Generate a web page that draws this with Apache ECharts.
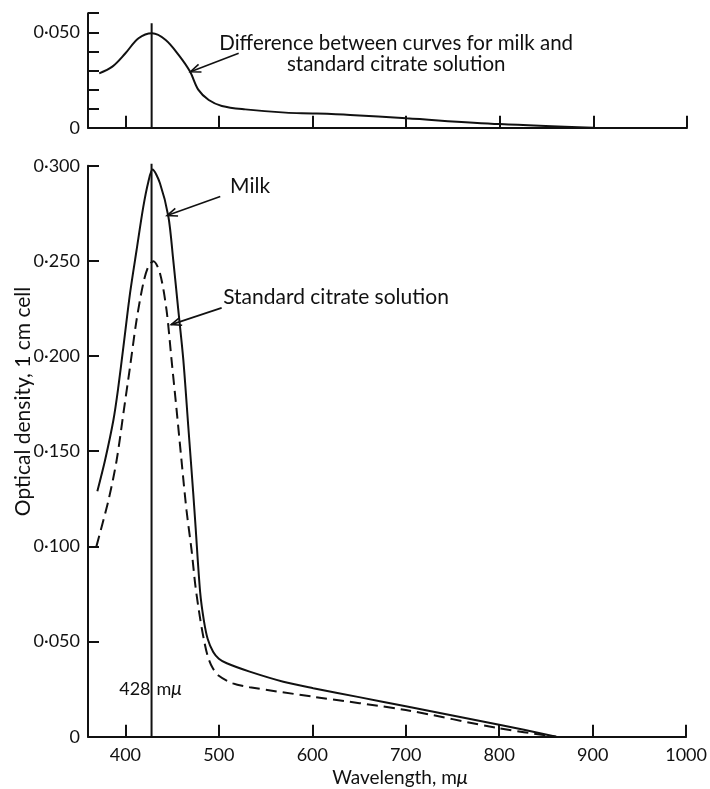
<!DOCTYPE html>
<html>
<head>
<meta charset="utf-8">
<script src="https://cdn.jsdelivr.net/npm/echarts@6/dist/echarts.min.js"></script>
<style>
  html, body { margin: 0; padding: 0; background: #fff; }
  #chart { width: 710px; height: 789px; }
</style>
</head>
<body>
<div id="chart"></div>
<script>
// Absorption spectra: milk vs. standard citrate solution, with their difference above.
const wavelengthTicks = [400, 500, 600, 700, 800, 900, 1000];
const densityTicks = [0, 0.05, 0.1, 0.15, 0.2, 0.25, 0.3];
const differenceTicks = [0, 0.01, 0.02, 0.03, 0.04, 0.05, 0.06];
const differenceLabelTicks = [0, 0.05];

const peakWavelength = 428;
const peakLineDensity = [0, 0.301];
const peakLineDifference = [0, 0.0547];

const milkWavelength = [370, 378.3, 387.2, 392.5, 397.9, 405, 412, 419.2, 424.6, 429,
  437, 446, 451.2, 456.6, 462, 467.3, 472.6, 475, 480, 484, 488, 494, 500, 508.5,
  533, 569, 601, 650, 700, 800, 861];
const milkDensity = [0.129, 0.1454, 0.1664, 0.1839, 0.2049, 0.233, 0.2557, 0.2785, 0.2916, 0.298,
  0.2908, 0.2733, 0.2505, 0.2242, 0.198, 0.163, 0.128, 0.111, 0.076, 0.061, 0.0515, 0.0445, 0.041, 0.0386,
  0.0342, 0.0289, 0.0255, 0.0208, 0.016, 0.0063, 0];

const citrateWavelength = [369, 382, 390.7, 397.9, 405, 412, 419.2, 424.6, 430,
  437, 444, 449.4, 454.8, 460, 465.4, 470.8, 475, 480, 484, 488, 493, 500, 515,
  533, 601, 700, 800, 861];
const citrateDensity = [0.100, 0.1244, 0.1454, 0.170, 0.1944, 0.219, 0.2383, 0.247, 0.2498,
  0.2435, 0.2242, 0.198, 0.1717, 0.1454, 0.119, 0.0981, 0.079, 0.062, 0.051, 0.0425, 0.0365, 0.032, 0.028,
  0.026, 0.021, 0.014, 0.0044, 0];

const differenceWavelength = [372, 386, 400, 414, 428.5, 443, 457, 469, 478, 489, 503, 528, 571,
  600, 640, 700, 800, 900];
const differenceDensity = [0.0285, 0.032, 0.039, 0.0469, 0.0495, 0.046, 0.038, 0.0294, 0.0198, 0.0145, 0.0114, 0.0096, 0.0079,
  0.0075, 0.0067, 0.0049, 0.0019, 0];

const pairs = (xs, ys) => xs.map((x, i) => [x, ys[i]]);
const fmtDensity = v => (Math.abs(v) < 1e-9 ? '0' : v.toFixed(3).replace('.', '\u00b7'));

const FONT = 'Lato';
const INK = '#111';

const chart = echarts.init(document.getElementById('chart'), null, { renderer: 'canvas' });

function xAxisFor(gridIndex, showLabels) {
  return {
    type: 'value', gridIndex, min: 360, max: 1000, interval: 20,
    axisLine: { lineStyle: { color: INK, width: 2 } },
    axisTick: { inside: true, length: 12, customValues: wavelengthTicks, lineStyle: { color: INK, width: 2 } },
    axisLabel: {
      show: showLabels, customValues: wavelengthTicks, margin: 9,
      formatter: v => String(v),
      color: INK, fontFamily: FONT, fontSize: 18
    },
    splitLine: { show: false }
  };
}

function yAxisFor(gridIndex, max, interval, ticks, labels) {
  return {
    type: 'value', gridIndex, min: 0, max, interval,
    axisLine: { show: true, lineStyle: { color: INK, width: 2 } },
    axisTick: { show: true, inside: true, length: 11, customValues: ticks, lineStyle: { color: INK, width: 2 } },
    axisLabel: {
      customValues: labels, margin: 8, formatter: fmtDensity,
      color: INK, fontFamily: FONT, fontSize: 18
    },
    splitLine: { show: false }
  };
}

const solid = { color: INK, width: 2 };

chart.setOption({
  animation: false,
  backgroundColor: '#fff',
  grid: [
    { left: 88, right: 23, top: 13.2, height: 114.5 },
    { left: 88, right: 23, top: 165.7, height: 571 }
  ],
  xAxis: [xAxisFor(0, false), xAxisFor(1, true)],
  yAxis: [
    yAxisFor(0, 0.06, 0.01, differenceTicks, differenceLabelTicks),
    yAxisFor(1, 0.3, 0.05, densityTicks, densityTicks)
  ],
  series: [
    {
      name: 'Difference', type: 'line', xAxisIndex: 0, yAxisIndex: 0,
      data: pairs(differenceWavelength, differenceDensity),
      smooth: 0.35, showSymbol: false, lineStyle: solid
    },
    {
      name: 'Peak (difference)', type: 'line', xAxisIndex: 0, yAxisIndex: 0, clip: false,
      data: peakLineDifference.map(v => [peakWavelength, v]),
      showSymbol: false, lineStyle: solid
    },
    {
      name: 'Milk', type: 'line', xAxisIndex: 1, yAxisIndex: 1,
      data: pairs(milkWavelength, milkDensity),
      smooth: 0.3, showSymbol: false, lineStyle: solid
    },
    {
      name: 'Standard citrate solution', type: 'line', xAxisIndex: 1, yAxisIndex: 1,
      data: pairs(citrateWavelength, citrateDensity),
      smooth: 0.3, showSymbol: false,
      lineStyle: { color: INK, width: 2, type: [11, 6] }
    },
    {
      name: 'Peak', type: 'line', xAxisIndex: 1, yAxisIndex: 1, clip: false,
      data: peakLineDensity.map(v => [peakWavelength, v]),
      showSymbol: false, lineStyle: solid
    }
  ]
});

// Annotation layer: texts and pointer arrows placed in data coordinates.
const px = (g, p) => chart.convertToPixel({ gridIndex: g }, p);

function arrow(g, from, to) {
  const a = px(g, from), b = px(g, to);
  const ang = Math.atan2(a[1] - b[1], a[0] - b[0]);
  const len = 11, spread = 0.38;
  const h1 = [b[0] + len * Math.cos(ang + spread), b[1] + len * Math.sin(ang + spread)];
  const h2 = [b[0] + len * Math.cos(ang - spread), b[1] + len * Math.sin(ang - spread)];
  const style = { stroke: INK, lineWidth: 1.6, fill: null };
  return [
    { type: 'polyline', shape: { points: [a, b] }, style },
    { type: 'polyline', shape: { points: [h1, b, h2] }, style }
  ];
}

function text(g, at, str, align, size, extra) {
  const p = px(g, at);
  return {
    type: 'text', x: p[0], y: p[1],
    style: Object.assign({
      text: str, fill: INK, font: size + 'px ' + FONT,
      align: align, verticalAlign: 'middle'
    }, extra || {})
  };
}

const peakPx = px(1, [peakWavelength, 0.0251]);

chart.setOption({
  graphic: [
    ...arrow(0, [521, 0.039], [469.5, 0.0293]),
    ...arrow(1, [501.5, 0.2838], [444.6, 0.2738]),
    ...arrow(1, [503, 0.2253], [449, 0.2165]),
    text(0, [689.3, 0.0386], 'Difference between curves for milk and\nstandard citrate solution', 'center', 20.5, { lineHeight: 21 }),
    text(1, [512, 0.289], 'Milk', 'left', 21),
    text(1, [504.6, 0.2311], 'Standard citrate solution', 'left', 21),
    {
      type: 'text', x: peakPx[0] - 1, y: peakPx[1],
      style: { text: String(peakWavelength), fill: INK, font: '18px ' + FONT, align: 'right', verticalAlign: 'middle' }
    },
    {
      type: 'text', x: peakPx[0] + 5, y: peakPx[1],
      style: {
        text: '{m|m}{mu|\u03bc}', fill: INK, align: 'left', verticalAlign: 'middle',
        rich: {
          m: { fontFamily: FONT, fontSize: 18, fill: INK },
          mu: { fontFamily: FONT, fontSize: 19, fontStyle: 'italic', fill: INK }
        }
      }
    },
    {
      type: 'text', x: 400, y: 778,
      style: {
        text: '{t|Wavelength, m}{mu|\u03bc}', align: 'center', verticalAlign: 'middle',
        rich: {
          t: { fontFamily: FONT, fontSize: 19, fill: INK },
          mu: { fontFamily: FONT, fontSize: 20, fontStyle: 'italic', fill: INK }
        }
      }
    },
    {
      type: 'text', x: 23, y: 401.5, rotation: Math.PI / 2,
      style: { text: 'Optical density, 1 cm cell', fill: INK, font: '21px ' + FONT, align: 'center', verticalAlign: 'middle' }
    }
  ]
});
</script>
</body>
</html>
